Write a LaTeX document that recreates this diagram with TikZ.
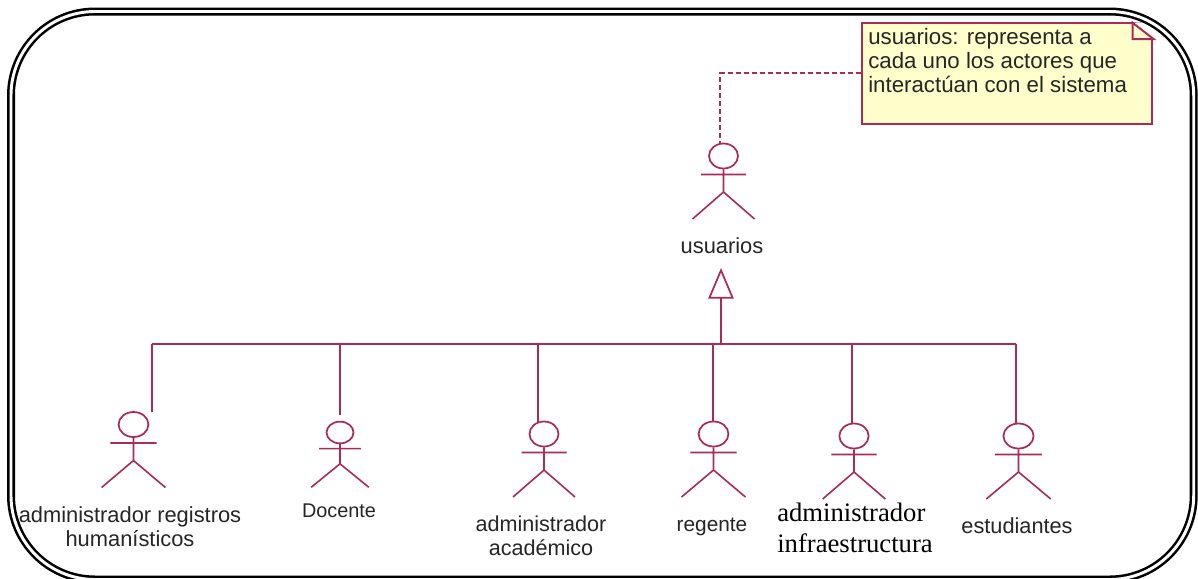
\documentclass[tikz,border=0pt]{standalone}
\usepackage{fontspec}
\setmainfont{Liberation Sans}
\newfontfamily\timesfont{Liberation Serif}
\usetikzlibrary{arrows.meta,shapes.geometric}
\definecolor{umlred}{HTML}{A92B58}
\definecolor{notefill}{HTML}{FFFFCC}
\definecolor{labelgray}{HTML}{262626}
\tikzset{
  assoc/.style={draw=umlred,line width=1.5pt},
  notelink/.style={draw=umlred,line width=1.3pt,dash pattern=on 3.6pt off 2.4pt},
  head node/.style={ellipse,draw=umlred,line width=1.3pt,fill=white,inner sep=0pt,minimum width=21.75pt,minimum height=18.75pt,transform shape},
  label node/.style={font=\fontsize{#1}{18}\selectfont,text=labelgray,align=center,inner sep=0pt},
  note node/.style={rectangle,draw=umlred,line width=1.5pt,fill=notefill,minimum width=218pt,minimum height=76pt,inner sep=0pt},
  pics/actor/.style 2 args={code={
    \begin{scope}[xscale=#1,yscale=#2]
    \node [head node](head) at (0,0) {};
    \draw [umlred,line width=1.2pt] (head.south) -- (0,36) -- (-31,63) (0,36) -- (31,63) (-22.5,18.5) -- (22.5,18.5);
    \end{scope}
  }}
}
\begin{document}
\begin{tikzpicture}[x=.75pt,y=-.75pt]
\useasboundingbox (0,0) rectangle (1198,578);
\fill[white] (0,0) rectangle (1198,578);

\node [note node](note) at (1007,73.3) {};
\node [label node=16.7,anchor=north west,align=left,font=\fontsize{16.7}{18}\selectfont](notetext) at (868,28.5) {usuarios: representa a\\cada uno los actores que\\interactúan con el sistema};
\coordinate (foldtop) at (1132.5,22.7);
\coordinate (foldin) at (1132.5,39);
\coordinate (foldright) at (1153.5,39);
\fill [white] (foldtop) -- (note.north east) -- (foldright) -- cycle;
\draw [umlred,line width=1.5pt] (foldtop) -- (foldin) -- (foldright) -- cycle;

\pic (usuarios) at (723.5,156) {actor={1}{1}};
\pic (registros) at (133.5,424.5) {actor={1.03}{1}};
\pic (docente) at (340,432.5) {actor={.93}{.87}};
\pic (academico) at (544,434) {actor={1}{1}};
\pic (regente) at (713.5,434) {actor={1.03}{1}};
\pic (infra) at (854,436) {actor={1.01}{1}};
\pic (estudiantes) at (1018.5,436) {actor={1.04}{1}};

\node [label node=16.4](lusuarios) at (722,246) {usuarios};
\node [label node=16.4](lregistros) at (130,527) {administrador registros\\humanísticos};
\node [label node=14.9](ldocente) at (339,511) {Docente};
\node [label node=16.2](lacademico) at (541,536) {administrador\\académico};
\node [label node=15.6](lregente) at (712,527) {regente};
\node [anchor=west,align=left,inner sep=0pt,font=\timesfont\fontsize{20}{23}\selectfont](linfra) at (777,528) {administrador\\infraestructura};
\node [label node=16.3](lestudiantes) at (1017,526) {estudiantes};

\coordinate (hub) at (721,344);
\coordinate (gentip) at (721,268);
\coordinate (bus1) at (152,344);
\coordinate (bus2) at (340,344);
\coordinate (bus3) at (538,344);
\coordinate (bus4) at (713,344);
\coordinate (bus5) at (852,344);
\coordinate (bus6) at (1016,344);
\coordinate (end1) at (152,412);
\coordinate (end2) at (340,415);
\coordinate (end3) at (538,423);
\coordinate (end4) at (713,422);
\coordinate (end5) at (852,424);
\coordinate (end6) at (1016,424);

\draw [assoc,-{Triangle[open,length=23pt,width=19pt,line width=1.3pt]}] (hub) -- (gentip);
\path [assoc]
	(end1) edge [assoc] (bus1)
	(bus1) edge [assoc] (bus6)
	(bus2) edge [assoc] (end2)
	(bus3) edge [assoc] (end3)
	(bus4) edge [assoc] (end4)
	(bus5) edge [assoc] (end5)
	(bus6) edge [assoc] (end6)
	;
\draw [notelink] (note.west) -| (usuarioshead.104);

\draw [black,rounded corners=63pt,line width=1.9pt,double=white,double distance=2.2pt] (11,11.5) rectangle (1193.7,579.5);
\end{tikzpicture}
\end{document}
